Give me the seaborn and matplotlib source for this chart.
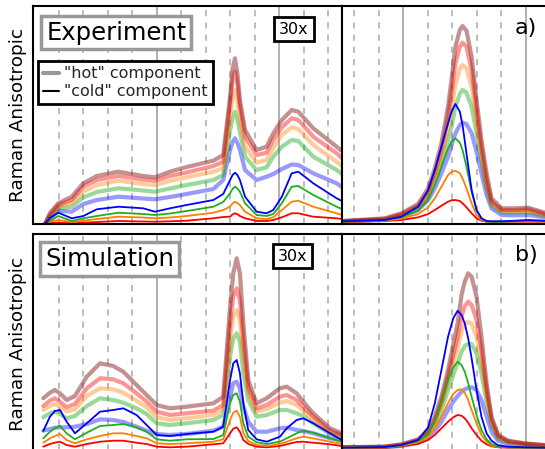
import matplotlib
matplotlib.use("Agg")
import matplotlib.pyplot as plt
from matplotlib.lines import Line2D
import seaborn as sns

# ---------------- wavenumber grids (cm^-1) ----------------
EXP_LOW_WN = [545, 565, 599, 654, 701, 756, 844, 945, 993, 1054, 1122, 1231, 1271,
              1299, 1309, 1319, 1329, 1339, 1360, 1407, 1448, 1475, 1510, 1550, 1577,
              1638, 1733, 1755]
EXP_HIGH_WN = [2749, 2925, 2993, 3061, 3102, 3129, 3156, 3183, 3197, 3213, 3231, 3242,
               3258, 3279, 3299, 3319, 3340, 3360, 3401, 3455, 3510, 3578, 3640]
SIM_LOW_WN = [538, 565, 585, 606, 633, 667, 715, 769, 823, 864, 918, 959, 1000, 1054,
              1122, 1231, 1271, 1299, 1312, 1326, 1339, 1353, 1373, 1407, 1448, 1502,
              1530, 1570, 1597, 1638, 1706, 1754]
SIM_HIGH_WN = [2749, 2925, 2993, 3061, 3102, 3129, 3156, 3183, 3204, 3222, 3238, 3251,
               3265, 3279, 3299, 3319, 3340, 3360, 3387, 3428, 3496, 3577, 3640]

# ---------------- experiment, low-frequency window ----------------
exp_low_hot_brown = [0, 11, 20.7, 27.3, 40.7, 48, 52.3, 48, 46.7, 52.3, 57, 63.3, 69,
                     127, 155, 165.7, 150, 124, 94, 74, 77.3, 90.7, 104, 114, 112.3,
                     95.7, 77.3, 73]
exp_low_hot_red = [0, 9, 19, 24, 37.3, 44, 48, 44.5, 43.3, 48, 51.5, 58, 62.3,
                   121, 143, 152.3, 139, 117.3, 87.3, 69, 71.3, 84, 96.7, 105.7, 104,
                   87.3, 70.7, 66]
exp_low_hot_orange = [0, 8, 17.3, 21.3, 32.3, 39, 43.3, 40, 39, 43, 46.7, 52.3, 55.7,
                      107.3, 126, 134, 122, 105.7, 77.3, 61.3, 64, 75.7, 89, 96.7, 95,
                      79, 62.3, 58]
exp_low_hot_green = [0, 7, 15.7, 17.3, 26.7, 32, 35.7, 33.5, 32.3, 35.5, 39, 44, 49,
                     94, 106, 112.3, 104, 92.3, 67.3, 54, 56.7, 67.3, 77.3, 84, 83,
                     67.3, 54, 50]
exp_low_hot_blue = [0, 5, 13.3, 12.3, 20, 24, 27.3, 25.5, 24.7, 27, 30, 35, 44,
                    74, 82, 85.7, 81, 74, 54, 44, 47.3, 50, 55, 59.5, 59,
                    50.7, 40.7, 37]
exp_low_cold_blue = [0, 6, 11.3, 5.7, 8, 14.7, 17.3, 15.7, 12.3, 15.7, 19, 24, 30,
                     44, 49, 51.3, 49, 44, 27.3, 12.3, 10.7, 14, 27.3, 50.7, 52.3,
                     40.7, 25.7, 23]
exp_low_cold_green = [0, 3, 8, 3, 5.7, 8, 11.3, 10, 9, 10.5, 13, 17.3, 22,
                      30.7, 35, 37.3, 35.5, 32.3, 20.7, 9, 8, 10, 20.7, 37.3, 38,
                      29, 17.3, 15]
exp_low_cold_orange = [0, 2, 4, 2, 3.3, 5, 7.3, 6.5, 5.7, 6.5, 8, 11.3, 14,
                       17.3, 20.5, 22.3, 21, 19, 12.3, 5.7, 5, 6.7, 14, 22.3, 23.3,
                       17.3, 10.7, 9]
exp_low_cold_red = [0, 1, 1.3, 0.7, 1.3, 2, 3, 2.5, 2.3, 2.7, 3.3, 5.7, 7,
                    7.3, 9.5, 10.7, 9.8, 8, 5.7, 3, 3, 4, 6.7, 10.7, 10.7,
                    7.3, 5.7, 5]

# ---------------- experiment, high-frequency window ----------------
exp_high_hot_brown = [3.0, 5.7, 10.7, 20.0, 35.7, 55.7, 80.7, 117.3, 144.0, 177.3, 194.0,
                      198.0, 193.3, 167.3, 124.0, 84.0, 50.7, 25.7, 15.7, 15.7, 16.3,
                      11.3, 9.5]
exp_high_hot_red = [2.7, 5, 9.7, 18.3, 32.3, 50.7, 74, 107.3, 130.7, 160.7, 177.3,
                    181.3, 177.3, 154, 114, 75.7, 44, 22.3, 14, 14, 14.7, 10, 8.5]
exp_high_hot_orange = [2.7, 4.7, 9, 17.3, 30, 47.3, 67.3, 95.7, 114, 139, 155, 159,
                       155.7, 137.3, 104, 70.7, 40, 20.7, 13, 12.7, 13.3, 9, 7.5]
exp_high_hot_green = [2.7, 4.3, 8.3, 16, 27.3, 42.3, 60.7, 84, 97.3, 117.3, 130, 134,
                      131.3, 117.3, 90.7, 64, 35.7, 19, 11.7, 11.3, 12, 8, 7]
exp_high_hot_blue = [2.7, 4, 7.3, 14, 24, 35.7, 50.7, 67.3, 79, 90.7, 99, 101.3, 100,
                     90.7, 72.3, 50.7, 29, 15.7, 9, 8.7, 9, 6.7, 6]
exp_high_cold_blue = [2.7, 4, 7.3, 17.3, 34, 54, 77.3, 100.7, 112.3, 120, 112.3, 99,
                      70.7, 34, 14, 5.7, 3, 2.7, 2.7, 3.3, 4, 3.3, 3]
exp_high_cold_green = [2.3, 3.7, 6.7, 13.3, 24, 39, 57.3, 75.7, 82.3, 85.7, 81.3, 74,
                       57.3, 32.3, 14, 5.7, 2.7, 2.3, 2.3, 2.7, 3, 2.7, 2.5]
exp_high_cold_orange = [2.3, 3.3, 5.3, 10, 16.7, 25.7, 37.3, 49, 52.3, 53.3, 50.7, 45.7,
                        35.7, 20.7, 9, 4, 2.3, 2.3, 2.3, 2.3, 2.3, 2.3, 2.3]
exp_high_cold_red = [2.3, 3, 4, 6.7, 10, 14, 18.3, 22.3, 23.7, 24, 23, 20.7, 16.7,
                     10.7, 5.7, 3.3, 2.3, 2.3, 2.3, 2.3, 2.3, 2.3, 2.3]

# ---------------- simulation, low-frequency window ----------------
sim_low_hot_brown = [54.7, 60.3, 63, 59.7, 53, 57, 76.3, 89.7, 87, 81.3, 68, 58, 48,
                     44.7, 46.3, 49.7, 56.3, 146.3, 179.7, 194.7, 179.7, 129.7, 73,
                     49.7, 54.7, 64.7, 66.3, 59.7, 51.3, 39.7, 24.7, 19.7]
sim_low_hot_red = [47, 52.3, 54.7, 51.3, 45.7, 49, 64.7, 74.7, 73.7, 69.7, 59.7, 51.3,
                   41.3, 38, 39.7, 42.3, 48, 129.7, 156.3, 164.7, 153, 113, 66.3, 44.7,
                   48, 56.3, 58, 53, 46.3, 36.3, 22.3, 18]
sim_low_hot_orange = [43, 47, 49, 46.3, 41.3, 43.7, 57, 64.7, 63.7, 60.3, 52.3, 45.7,
                      35.7, 33, 34.7, 38, 43, 113, 136.3, 143, 133, 96.3, 59.7, 41.3,
                      43.7, 50.3, 52, 48, 42.3, 33.7, 20.3, 17]
sim_low_hot_green = [35.7, 39.7, 41.3, 39, 34.7, 37, 47, 54.7, 53, 50.3, 44.7, 39,
                     29.7, 28, 29.7, 33, 38, 96.3, 114.7, 119.7, 111.3, 79.7, 53, 36.3,
                     38, 43, 43, 39.7, 37, 29.7, 19, 15.7]
sim_low_hot_blue = [22.3, 24, 25.3, 25.7, 25.7, 26.3, 29, 33.7, 33, 31, 26.3, 22.3,
                    19, 18, 19, 22.3, 26.3, 56.3, 69.7, 71.3, 64.7, 46.3, 31.3, 21.3,
                    21.3, 24.7, 25.3, 23, 22, 19.7, 14.7, 12.3]
sim_low_cold_blue = [22, 36.3, 42, 43, 31.3, 19.7, 29.7, 41.3, 43, 44.7, 38, 28, 18,
                     17, 19, 21.3, 26.3, 73, 89.7, 93, 79.7, 49.7, 23, 13.7, 11.3,
                     16.3, 24.7, 33, 34.7, 29.7, 19.7, 13]
sim_low_cold_green = [14.7, 21.3, 24.7, 27, 19.7, 13.7, 20.3, 27, 28, 29, 25.7, 21.3,
                      13.7, 12.3, 13.7, 14, 18, 49.7, 58, 59.7, 51.3, 29.7, 16.3, 10.7,
                      9, 11.3, 14.7, 19.7, 22.3, 20.3, 14.7, 11.3]
sim_low_cold_orange = [10.3, 14.7, 17, 19, 13, 9.7, 13.7, 17, 19.7, 19.7, 17, 14.7,
                       9.7, 9, 9.7, 11.3, 13.7, 33, 40.3, 42.3, 36.3, 20.3, 12, 8, 7,
                       9, 11.3, 14.7, 16.3, 14.7, 11.3, 9]
sim_low_cold_red = [6.3, 9, 10.3, 11.3, 8, 6.3, 9, 11.3, 12.3, 12.3, 10.3, 9, 6.3,
                    5.7, 6.3, 8.7, 9.7, 19.7, 24.3, 25.7, 21.3, 13, 9, 6.3, 5.7, 7,
                    8.7, 11, 11.3, 10.3, 8.7, 7]

# ---------------- simulation, high-frequency window ----------------
sim_high_hot_brown = [5.7, 6.3, 8.7, 13.7, 23, 36.3, 56.3, 83, 108, 129.7, 158, 171.3,
                      179.7, 176.3, 156.3, 116.3, 69.7, 36.3, 18, 12.3, 9.7, 8, 7.5]
sim_high_hot_red = [5.7, 6.3, 8.3, 13, 21.3, 33, 51.3, 76.3, 98, 116.3, 136.3, 147,
                    151.3, 148, 133, 103, 63, 33.7, 17, 11.7, 9.3, 7.7, 7.2]
sim_high_hot_orange = [5.7, 6, 8, 12.3, 19.7, 30.3, 48, 71.3, 89.7, 104.7, 121.3, 129,
                       131.3, 129, 116.3, 91.3, 58, 31.3, 16.3, 11, 9, 7.3, 7]
sim_high_hot_green = [5.7, 6, 7.7, 11.7, 18.3, 28, 43, 63, 78, 89.7, 101.3, 107, 109,
                      109, 99.7, 79.7, 51.3, 28, 14.7, 10.3, 8.7, 7, 6.8]
sim_high_hot_blue = [5.3, 5.7, 7, 10.3, 15.7, 22.3, 31.3, 43, 51.3, 57, 61.3, 63.7, 65,
                     65.7, 63, 53, 36.3, 21.3, 12.3, 9, 7.7, 6.3, 6]
sim_high_cold_blue = [5.3, 6, 8, 13, 25.7, 49.7, 83, 116.3, 134.7, 142.3, 138, 129.7,
                      114.7, 94.7, 63, 36.3, 19.7, 12.3, 7.7, 6.3, 5.7, 5.3, 5.3]
sim_high_cold_green = [5.3, 6, 7.7, 11.7, 19, 31.3, 51.3, 73, 85.7, 91.3, 88, 81.3,
                       69.7, 56.3, 38, 23, 13.7, 9, 6.3, 5.7, 5.3, 5.3, 5.3]
sim_high_cold_orange = [5.3, 5.7, 7.3, 10.7, 16.3, 24.7, 36.3, 49.7, 59, 63, 63.7, 60.3,
                        53, 43, 29.7, 18, 11.3, 7.3, 6, 5.7, 5.3, 5.3, 5.3]
sim_high_cold_red = [5.3, 5.7, 6.7, 9, 13, 18, 24.7, 31.3, 35.7, 38, 37.3, 34.7, 30.3,
                     24.7, 18, 12.3, 8.7, 6.7, 5.7, 5.3, 5.3, 5.3, 5.3]

# ---------------- styling ----------------
HOT_COLORS = {"blue": "#0000ff", "green": "#00a000", "orange": "#ff8000",
              "red": "#ff0000", "brown": "#8b2222"}
HOT_ALPHA = {"blue": 0.4, "green": 0.4, "orange": 0.4, "red": 0.42, "brown": 0.5}
COLD_COLORS = {"red": "#ff0000", "orange": "#ff8000", "green": "#1fae1f",
               "blue": "#0000ff"}

sns.set_theme(style="white")
plt.rcParams["font.family"] = ["DejaVu Sans"]

fig = plt.figure(figsize=(5.45, 4.49), dpi=100)

ax_el = fig.add_axes([0.06055, 0.50111, 0.56606, 0.48664])
ax_eh = fig.add_axes([0.62661, 0.50111, 0.40092, 0.48664])
ax_sl = fig.add_axes([0.06055, -0.00891, 0.56606, 0.48775])
ax_sh = fig.add_axes([0.62661, -0.00891, 0.40092, 0.48775])


def style_axes(ax, xlim, ylim, majors, minors):
    ax.set_xlim(*xlim)
    ax.set_ylim(*ylim)
    ax.set_xticks(majors)
    ax.set_xticks(minors, minor=True)
    ax.set_yticks([])
    ax.tick_params(which="both", length=0, labelbottom=False, labelleft=False)
    ax.grid(False)
    ax.grid(True, which="major", axis="x", color="#aaaaaa", lw=1.3, ls="-")
    ax.grid(True, which="minor", axis="x", color="#aaaaaa", lw=1.1,
            ls=(0, (4, 4)))
    ax.set_axisbelow(True)
    for sp in ax.spines.values():
        sp.set_visible(True)
        sp.set_color("black")
        sp.set_linewidth(1.5)
    ax.set_xlabel("")


def draw_panel(ax, wn, hot, cold):
    for name in ["blue", "green", "orange", "red", "brown"]:
        sns.lineplot(x=wn, y=hot[name], ax=ax, color=HOT_COLORS[name],
                     alpha=HOT_ALPHA[name], linewidth=3.0, estimator=None,
                     sort=False, legend=False, solid_joinstyle="round",
                     solid_capstyle="round")
    for name in ["red", "orange", "green", "blue"]:
        sns.lineplot(x=wn, y=cold[name], ax=ax, color=COLD_COLORS[name],
                     linewidth=1.3, estimator=None, sort=False, legend=False,
                     solid_joinstyle="round")


draw_panel(ax_el, EXP_LOW_WN,
           {"brown": exp_low_hot_brown, "red": exp_low_hot_red,
            "orange": exp_low_hot_orange, "green": exp_low_hot_green,
            "blue": exp_low_hot_blue},
           {"red": exp_low_cold_red, "orange": exp_low_cold_orange,
            "green": exp_low_cold_green, "blue": exp_low_cold_blue})
draw_panel(ax_eh, EXP_HIGH_WN,
           {"brown": exp_high_hot_brown, "red": exp_high_hot_red,
            "orange": exp_high_hot_orange, "green": exp_high_hot_green,
            "blue": exp_high_hot_blue},
           {"red": exp_high_cold_red, "orange": exp_high_cold_orange,
            "green": exp_high_cold_green, "blue": exp_high_cold_blue})
draw_panel(ax_sl, SIM_LOW_WN,
           {"brown": sim_low_hot_brown, "red": sim_low_hot_red,
            "orange": sim_low_hot_orange, "green": sim_low_hot_green,
            "blue": sim_low_hot_blue},
           {"red": sim_low_cold_red, "orange": sim_low_cold_orange,
            "green": sim_low_cold_green, "blue": sim_low_cold_blue})
draw_panel(ax_sh, SIM_HIGH_WN,
           {"brown": sim_high_hot_brown, "red": sim_high_hot_red,
            "orange": sim_high_hot_orange, "green": sim_high_hot_green,
            "blue": sim_high_hot_blue},
           {"red": sim_high_cold_red, "orange": sim_high_cold_orange,
            "green": sim_high_cold_green, "blue": sim_high_cold_blue})

low_major = [1000, 1500]
low_minor = [600, 700, 800, 900, 1100, 1200, 1300, 1400, 1600, 1700]
high_major = [3000, 3500]
high_minor = [2800, 2900, 3100, 3200, 3300, 3400, 3600]

style_axes(ax_el, (496, 1753), (0, 218.5), low_major, low_minor)
style_axes(ax_eh, (2749, 3639), (0, 218.5), high_major, high_minor)
style_axes(ax_sl, (496, 1753), (0, 219), low_major, low_minor)
style_axes(ax_sh, (2749, 3639), (0, 219), high_major, high_minor)

for ax in (ax_el, ax_sl):
    ax.set_ylabel("Raman Anisotropic", fontsize=13.3, labelpad=4, color="black")

# panel titles
title_box = dict(boxstyle="square,pad=0.2", fc="white", ec="#999999", lw=2.5)
ax_el.text(0.043, 0.876, "Experiment", transform=ax_el.transAxes, fontsize=17.5,
           ha="left", va="center", bbox=title_box, zorder=10, color="black")
ax_sl.text(0.040, 0.885, "Simulation", transform=ax_sl.transAxes, fontsize=17.5,
           ha="left", va="center", bbox=title_box, zorder=10, color="black")

# magnification tags
mag_box = dict(boxstyle="square,pad=0.3", fc="white", ec="black", lw=2)
ax_el.text(0.846, 0.892, "30x", transform=ax_el.transAxes, fontsize=11.5,
           ha="center", va="center", bbox=mag_box, zorder=10, color="black")
ax_sl.text(0.841, 0.899, "30x", transform=ax_sl.transAxes, fontsize=11.5,
           ha="center", va="center", bbox=mag_box, zorder=10, color="black")

# panel letters
ax_eh.text(0.844, 0.899, "a)", transform=ax_eh.transAxes, fontsize=16,
           ha="center", va="center", color="black")
ax_sh.text(0.844, 0.905, "b)", transform=ax_sh.transAxes, fontsize=16,
           ha="center", va="center", color="black")

# legend
handles = [Line2D([], [], color="#999999", lw=3),
           Line2D([], [], color="black", lw=1.5)]
leg = ax_el.legend(handles, ['"hot" component', '"cold" component'],
                   loc="upper left", bbox_to_anchor=(0.017, 0.746),
                   borderaxespad=0, fontsize=11.5, frameon=True, fancybox=False,
                   framealpha=1, edgecolor="black", handlelength=1.0,
                   handletextpad=0.3, borderpad=0.32, labelspacing=0.2)
leg.get_frame().set_linewidth(2)
leg.set_zorder(10)

fig.savefig("out.png", dpi=100)
